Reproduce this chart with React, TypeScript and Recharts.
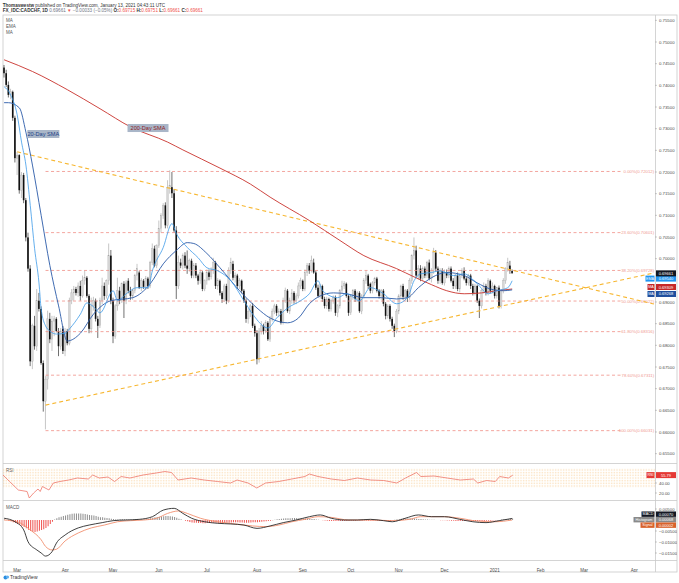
import React from 'react'
import { ComposedChart, Bar, Line, XAxis, YAxis, ReferenceLine, ReferenceDot, ReferenceArea, Cell } from 'recharts'

// FX_IDC:CADCHF daily bars, 21 Feb 2020 .. 13 Jan 2021, prices in pips (x 1e-4)
const opens = [
  7441, 7428, 7401, 7378, 7385, 7325, 7232, 7239, 7158, 7193,
  7135, 7049, 6977, 6763, 6845, 6798, 6903, 6884, 6759, 6671,
  6722, 6861, 6814, 6856, 6861, 6833, 6798, 6838, 6787, 6833,
  6805, 6903, 6921, 6930, 6921, 6937, 6914, 6949, 6956, 6914,
  6838, 6891, 6903, 6861, 6845, 6903, 6937, 6914, 6949, 7007,
  6903, 6821, 6891, 6926, 6903, 6942, 6903, 6949, 6926, 6914,
  6926, 6961, 6968, 6933, 6949, 6935, 6954, 6937, 6991, 7023,
  6984, 7030, 7070, 7100, 7123, 7077, 7165, 7165, 7151, 7065,
  6937, 6991, 6984, 7007, 6984, 6977, 6995, 6961, 6984, 6961,
  6949, 6968, 6930, 6949, 6968, 6958, 6972, 6991, 6937, 6949,
  6921, 6907, 6937, 6903, 6972, 6988, 6956, 6961, 6937, 6949,
  6926, 6903, 6861, 6879, 6891, 6845, 6828, 6768, 6833, 6845,
  6833, 6852, 6814, 6861, 6879, 6891, 6875, 6879, 6852, 6903,
  6926, 6879, 6903, 6921, 6903, 6914, 6937, 6949, 6930, 6968,
  6984, 6972, 6991, 6968, 6933, 6914, 6937, 6907, 6891, 6907,
  6884, 6903, 6910, 6875, 6891, 6926, 6937, 6942, 6914, 6875,
  6914, 6926, 6907, 6921, 6879, 6914, 6949, 6961, 6942, 6926,
  6944, 6954, 6926, 6914, 6926, 6896, 6868, 6891, 6861, 6845,
  6833, 6879, 6914, 6937, 6912, 6926, 6910, 6949, 7007, 7019,
  6961, 6977, 6954, 6977, 6961, 6991, 6954, 6972, 7014, 6977,
  6949, 6972, 6944, 6968, 6961, 6977, 6949, 6937, 6961, 6930,
  6961, 6972, 6954, 6944, 6961, 6937, 6921, 6937, 6903, 6891,
  6926, 6937, 6921, 6949, 6926, 6937, 6914, 6933, 6891, 6926,
  6949, 6977, 6984, 6971.5,
]
const highs = [
  7447, 7436, 7409, 7392, 7388, 7330, 7246, 7241, 7200, 7198,
  7140, 7060, 6985, 6850, 6868, 6930, 6921, 6890, 6765, 6729,
  6880, 6875, 6868, 6868, 6865, 6840, 6840, 6845, 6840, 6838,
  6910, 6930, 6937, 6935, 6945, 6949, 6961, 6972, 6960, 6918,
  6910, 6912, 6908, 6868, 6910, 6956, 6945, 6952, 7035, 7020,
  6910, 6895, 6956, 6935, 6945, 6948, 6950, 6955, 6935, 6930,
  6965, 6988, 6972, 6955, 6953, 6960, 6958, 6995, 7035, 7030,
  7033, 7088, 7105, 7128, 7130, 7181, 7204, 7200, 7160, 7075,
  7007, 7000, 7012, 7015, 7019, 7000, 7000, 6990, 6990, 6965,
  6975, 6972, 6952, 6975, 6975, 6980, 7002, 6995, 6955, 6952,
  6925, 6942, 6942, 6980, 7002, 6995, 6968, 6965, 6955, 6952,
  6930, 6908, 6885, 6895, 6898, 6850, 6835, 6840, 6856, 6850,
  6858, 6856, 6868, 6885, 6896, 6895, 6885, 6884, 6910, 6933,
  6930, 6910, 6930, 6925, 6920, 6945, 6956, 6952, 6975, 6990,
  6990, 7007, 7000, 6972, 6940, 6942, 6940, 6912, 6912, 6910,
  6908, 6915, 6915, 6895, 6930, 6949, 6948, 6945, 6918, 6918,
  6930, 6930, 6925, 6925, 6918, 6955, 6972, 6965, 6945, 6948,
  6958, 6958, 6930, 6930, 6930, 6900, 6895, 6895, 6866, 6850,
  6884, 6918, 6940, 6942, 6930, 6930, 6955, 7010, 7049, 7030,
  6985, 6985, 6982, 6982, 6995, 6998, 6978, 7025, 7020, 6982,
  6978, 6978, 6975, 6975, 6982, 6982, 6955, 6965, 6968, 6965,
  6978, 6980, 6958, 6965, 6965, 6942, 6942, 6940, 6908, 6930,
  6945, 6942, 6955, 6952, 6945, 6940, 6935, 6938, 6930, 6955,
  6980, 7002, 6995, 6975.1,
]
const lows = [
  7418, 7396, 7372, 7368, 7318, 7222, 7193, 7150, 7140, 7128,
  7040, 6970, 6752, 6745, 6790, 6787, 6878, 6755, 6647, 6606,
  6698, 6805, 6787, 6821, 6830, 6775, 6790, 6780, 6775, 6800,
  6800, 6895, 6903, 6915, 6912, 6903, 6910, 6940, 6910, 6828,
  6828, 6880, 6855, 6817, 6840, 6895, 6905, 6908, 6940, 6895,
  6805, 6815, 6880, 6895, 6898, 6863, 6895, 6920, 6905, 6905,
  6920, 6950, 6930, 6925, 6930, 6928, 6930, 6932, 6985, 6980,
  6978, 7025, 7060, 7092, 7070, 7070, 7150, 7140, 7060, 6907,
  6930, 6978, 6975, 6978, 6965, 6970, 6955, 6955, 6955, 6940,
  6942, 6925, 6925, 6940, 6950, 6952, 6965, 6930, 6928, 6915,
  6898, 6900, 6895, 6898, 6965, 6950, 6945, 6930, 6930, 6920,
  6898, 6852, 6850, 6865, 6840, 6820, 6756, 6760, 6825, 6825,
  6828, 6810, 6808, 6855, 6872, 6868, 6865, 6848, 6848, 6898,
  6875, 6872, 6896, 6896, 6895, 6908, 6930, 6925, 6925, 6960,
  6965, 6968, 6965, 6928, 6910, 6908, 6900, 6885, 6884, 6878,
  6878, 6896, 6868, 6865, 6885, 6920, 6930, 6910, 6868, 6870,
  6905, 6900, 6900, 6875, 6872, 6908, 6942, 6930, 6920, 6920,
  6938, 6922, 6908, 6905, 6890, 6860, 6862, 6855, 6838, 6819,
  6828, 6872, 6908, 6905, 6905, 6900, 6905, 6942, 6998, 6955,
  6952, 6948, 6948, 6955, 6955, 6950, 6945, 6965, 6970, 6942,
  6942, 6940, 6938, 6955, 6955, 6945, 6930, 6930, 6925, 6922,
  6955, 6950, 6938, 6938, 6930, 6915, 6915, 6898, 6863, 6885,
  6920, 6915, 6915, 6920, 6920, 6908, 6908, 6885, 6885, 6920,
  6942, 6970, 6965, 6966.1,
]
const closes = [
  7428, 7401, 7378, 7385, 7325, 7232, 7239, 7158, 7193, 7135,
  7049, 6977, 6763, 6845, 6798, 6903, 6884, 6759, 6671, 6722,
  6861, 6814, 6856, 6861, 6833, 6798, 6833, 6787, 6833, 6805,
  6903, 6921, 6930, 6921, 6937, 6914, 6949, 6956, 6914, 6838,
  6891, 6903, 6861, 6845, 6903, 6937, 6914, 6949, 7007, 6903,
  6821, 6891, 6926, 6903, 6942, 6903, 6944, 6926, 6914, 6926,
  6961, 6977, 6933, 6949, 6935, 6954, 6937, 6991, 7023, 6984,
  7030, 7070, 7100, 7123, 7077, 7165, 7169, 7151, 7065, 6937,
  6991, 6984, 7007, 6984, 6977, 6995, 6961, 6984, 6961, 6949,
  6968, 6930, 6949, 6968, 6958, 6972, 6991, 6937, 6949, 6921,
  6907, 6937, 6903, 6972, 6991, 6956, 6961, 6937, 6949, 6926,
  6903, 6861, 6879, 6891, 6845, 6828, 6768, 6833, 6845, 6833,
  6852, 6814, 6861, 6879, 6891, 6875, 6879, 6852, 6903, 6926,
  6879, 6903, 6921, 6903, 6914, 6937, 6949, 6930, 6968, 6984,
  6972, 6995, 6968, 6933, 6914, 6937, 6907, 6891, 6907, 6884,
  6903, 6910, 6875, 6891, 6926, 6937, 6942, 6914, 6875, 6914,
  6926, 6907, 6921, 6879, 6914, 6949, 6961, 6937, 6926, 6944,
  6954, 6926, 6914, 6926, 6896, 6868, 6891, 6861, 6845, 6833,
  6879, 6914, 6937, 6912, 6926, 6910, 6949, 7007, 7019, 6961,
  6977, 6954, 6977, 6961, 6991, 6954, 6972, 7014, 6977, 6949,
  6972, 6944, 6968, 6961, 6977, 6949, 6937, 6961, 6930, 6961,
  6972, 6954, 6944, 6961, 6937, 6921, 6937, 6903, 6891, 6926,
  6937, 6921, 6949, 6926, 6937, 6914, 6933, 6891, 6926, 6949,
  6977, 6991, 6972, 6966.1,
]

// indicator readings: [bar index, value]
const sma200Pts = [[0, 7459], [13, 7432], [29, 7390], [44, 7346], [58, 7304], [75, 7269], [82, 7251], [99, 7209], [113, 7172], [122, 7142], [140, 7088], [154, 7042], [165, 7007], [180, 6977], [188, 6958], [196, 6940], [203, 6926], [211, 6919], [219, 6921], [226, 6926], [233, 6930]]
const sma20Pts = [[0, 7360], [2, 7360], [7, 7348], [10, 7292], [13, 7216], [17, 7100], [21, 6984], [25, 6891], [29, 6810], [35, 6828], [41, 6872], [49, 6903], [59, 6910], [67, 6942], [73, 6988], [79, 7019], [84, 7037], [87, 7035], [93, 7012], [99, 6979], [108, 6926], [116, 6886], [122, 6863], [130, 6852], [135, 6863], [140, 6896], [145, 6914], [151, 6921], [157, 6919], [165, 6910], [173, 6910], [180, 6907], [185, 6910], [190, 6933], [196, 6956], [203, 6968], [211, 6961], [217, 6944], [223, 6930], [229, 6926], [233, 6928]]
const emaPts = [[0, 7397], [3, 7378], [6, 7332], [8, 7269], [10, 7216], [12, 7123], [14, 7023], [16, 6944], [17, 6884], [19, 6845], [21, 6833], [24, 6826], [28, 6828], [30, 6838], [35, 6872], [38, 6898], [41, 6889], [44, 6875], [50, 6926], [52, 6903], [56, 6919], [61, 6933], [66, 6933], [68, 6972], [73, 7026], [77, 7081], [79, 7058], [84, 7026], [89, 7002], [93, 6979], [98, 6972], [104, 6949], [110, 6903], [114, 6872], [121, 6840], [125, 6863], [130, 6886], [136, 6903], [140, 6919], [144, 6949], [146, 6926], [153, 6910], [157, 6919], [163, 6903], [168, 6933], [174, 6919], [180, 6896], [185, 6910], [188, 6949], [191, 6965], [196, 6968], [200, 6972], [206, 6961], [211, 6965], [217, 6942], [222, 6919], [226, 6926], [231, 6933], [233, 6949]]
const rsiPts = [[0, 56], [3, 43], [7, 26], [11, 23], [12, 10], [14, 20], [16, 28], [17, 23], [18, 33], [21, 26], [23, 40], [26, 43], [30, 46], [34, 50], [39, 48], [41, 56], [44, 50], [48, 52], [51, 43], [54, 53], [58, 50], [64, 56], [70, 60], [74, 63], [77, 61], [80, 46], [86, 50], [92, 46], [98, 43], [104, 40], [107, 46], [112, 40], [116, 30], [120, 40], [126, 43], [132, 48], [138, 53], [140, 58], [144, 53], [150, 48], [156, 45], [162, 50], [168, 46], [174, 45], [180, 40], [184, 50], [189, 61], [191, 53], [197, 54], [203, 50], [209, 46], [215, 48], [217, 40], [221, 45], [225, 43], [227, 53], [231, 50], [233, 55.79]]
const macdPts = [[0, 8], [5, -8], [9, -45], [11, -99], [15, -136], [17, -150], [19, -164], [22, -144], [24, -105], [28, -68], [34, -36], [39, -23], [45, -12], [50, -3], [56, 0], [62, 3], [68, 15], [73, 45], [78, 53], [82, 30], [86, 8], [92, -8], [98, -15], [104, -18], [110, -23], [116, -38], [122, -27], [128, -12], [134, 0], [140, 15], [145, 23], [150, 8], [156, 0], [162, 0], [168, 3], [174, -3], [178, -8], [184, 8], [190, 23], [196, 15], [202, 15], [209, 3], [215, -8], [221, -12], [227, -3], [233, 7]]
const signalPts = [[0, 0], [6, -8], [12, -45], [17, -90], [19, -120], [22, -136], [24, -133], [28, -95], [34, -59], [40, -36], [46, -23], [52, -8], [58, -3], [64, 0], [70, 8], [75, 30], [80, 41], [84, 30], [90, 8], [98, -8], [106, -18], [114, -27], [120, -30], [126, -23], [132, -8], [138, 3], [144, 15], [150, 12], [158, 0], [168, 0], [178, -3], [186, 3], [191, 15], [202, 15], [209, 8], [217, -5], [225, -8], [233, 0]]
const histVals = [
  2, 0, -3, -6, -10, -14, -18, -22, -27, -32,
  -38, -44, -50, -53, -54, -52, -49, -46, -42, -36,
  -28, -18, -8, 2, 8, 12, 15, 18, 21, 24,
  26, 28, 29, 30, 30, 29, 28, 27, 25, 23,
  22, 20, 18, 15, 13, 12, 10, 9, 8, 6,
  4, 3, 3, 4, 4, 3, 3, 2, 2, 3,
  3, 4, 3, 3, 2, 3, 5, 8, 10, 12,
  14, 15, 16, 17, 18, 18, 17, 16, 14, 10,
  6, 3, 0, -3, -6, -9, -11, -12, -13, -14,
  -14, -15, -15, -14, -14, -13, -13, -13, -14, -14,
  -15, -14, -13, -12, -11, -10, -10, -10, -11, -11,
  -12, -12, -12, -11, -10, -10, -10, -9, -8, -7,
  -6, -5, -3, -1, 1, 3, 5, 6, 7, 8,
  8, 8, 9, 9, 9, 8, 8, 7, 7, 7,
  6, 5, 4, 2, 1, 0, -1, -2, -3, -4,
  -4, -5, -5, -5, -4, -4, -4, -4, -4, -3,
  -3, -3, -2, -3, -3, -2, -2, -3, -3, -3,
  -2, -3, -4, -4, -5, -5, -5, -4, -2, 1,
  3, 5, 6, 7, 8, 8, 8, 8, 7, 6,
  5, 4, 3, 2, 2, 1, 1, 1, 0, 0,
  -1, -1, -1, -2, -2, -3, -3, -4, -4, -4,
  -4, -5, -5, -5, -5, -5, -5, -5, -5, -4,
  -4, -3, -3, -3, -2, -2, -1, 0, 2, 3,
  4, 5, 6, 7,
]

// fibonacci retracement levels (0.72012 high / 0.66031 low)
const fibLevels = [0.72012, 0.70601, 0.69728, 0.69022, 0.68316, 0.67311, 0.66031]
const fibNames = ['0.00%(0.72012)', '23.60%(0.70601)', '38.20%(0.69728)', '50.00%(0.69022)', '61.80%(0.68316)', '78.60%(0.67311)', '100.00%(0.66031)']

const monthTicks = [6, 28, 50, 71, 93, 116, 137, 159, 181, 202, 225, 246, 266, 289]
const monthNames = ['Mar', 'Apr', 'May', 'Jun', 'Jul', 'Aug', 'Sep', 'Oct', 'Nov', 'Dec', '2021', 'Feb', 'Mar', 'Apr']
// 0.69500 is hidden behind the value tags in the reference
const priceTicks = [0.655, 0.66, 0.665, 0.67, 0.675, 0.68, 0.685, 0.69, 0.7, 0.705, 0.71, 0.715, 0.72, 0.725, 0.73, 0.735, 0.74, 0.745, 0.75, 0.755]
const rsiTicks = [20, 40]
const macdTicks = [0.005, -0.005, -0.01, -0.015]

const SLOTS = 299 // bars + empty days up to April 2021

const rows: any[] = Array.from({ length: SLOTS }, (_, i) => {
  const r: any = { i }
  if (i < closes.length) {
    r.o = opens[i] / 1e4
    r.h = highs[i] / 1e4
    r.l = lows[i] / 1e4
    r.c = closes[i] / 1e4
    r.range = [r.l, r.h]
    r.hist = histVals[i] / 1e4
  }
  return r
})
sma200Pts.forEach(([i, v]) => (rows[i].sma200 = v / 1e4))
sma20Pts.forEach(([i, v]) => (rows[i].sma20 = v / 1e4))
emaPts.forEach(([i, v]) => (rows[i].ema = v / 1e4))
rsiPts.forEach(([i, v]) => (rows[i].rsi = v))
macdPts.forEach(([i, v]) => (rows[i].macd = v / 1e4))
signalPts.forEach(([i, v]) => (rows[i].signal = v / 1e4))

const FONT = '"Liberation Sans", Arial, sans-serif'
const axisTick = { fontSize: 4.3, fill: '#4a4a4a', fontFamily: FONT }
const minus = (v: number, d: number) => (v < 0 ? '\u2212' + Math.abs(v).toFixed(d) : v.toFixed(d))

const Candle = (props: any) => {
  const { x, y, width, height, payload } = props
  if (!payload || payload.o == null || height == null) return null
  const top = Math.min(y, y + height)
  const hh = Math.abs(height)
  const span = payload.h - payload.l || 1
  const py = (p: number) => top + ((payload.h - p) / span) * hh
  const up = payload.c >= payload.o
  const cx = x + width / 2
  const b1 = py(Math.max(payload.o, payload.c))
  const b2 = py(Math.min(payload.o, payload.c))
  return (
    <g>
      <line x1={cx} x2={cx} y1={top} y2={top + hh} stroke={up ? '#a0a0a0' : '#111'} strokeWidth={0.6} />
      <rect x={cx - 0.8} y={b1} width={1.6} height={Math.max(0.7, b2 - b1)} fill={up ? '#d6d6d6' : '#111'} stroke={up ? '#a6a6a6' : 'none'} strokeWidth={0.3} />
    </g>
  )
}

const Tag = ({ vb, name, value, bg, dy = 0, nameW = 0, h = 6 }: any) => {
  if (!vb) return null
  const x = vb.x + vb.width
  const y = vb.y + dy
  return (
    <g style={{ fontFamily: FONT }}>
      {name ? <rect x={x - nameW - 0.5} y={y - h / 2} width={nameW} height={h} fill={bg} /> : null}
      {name ? (
        <text x={x - nameW / 2 - 0.5} y={y} fontSize={3.7} fill="#fff" textAnchor="middle" dominantBaseline="central">
          {name}
        </text>
      ) : null}
      <rect x={x + 1} y={y - h / 2} width={20} height={h} fill={bg} />
      <text x={x + 11} y={y} fontSize={4} fill="#fff" textAnchor="middle" dominantBaseline="central">
        {value}
      </text>
    </g>
  )
}

const Anno = ({ vb, text, w, color }: any) => {
  if (!vb) return null
  const cx = vb.x + (vb.width || 0) / 2
  const cy = vb.y + (vb.height || 0) / 2
  return (
    <g style={{ fontFamily: FONT }}>
      <rect x={cx - w / 2} y={cy - 4} width={w} height={8} fill="#a9b6c8" />
      <text x={cx} y={cy} fontSize={5.6} fill={color} textAnchor="middle" dominantBaseline="central">
        {text}
      </text>
    </g>
  )
}

const Frame = () => (
  <svg width={679} height={583} style={{ position: 'absolute', left: 0, top: 0, fontFamily: FONT }}>
    <rect x={0} y={0} width={679} height={583} fill="#fff" />
    <text x={2.7} y={6.6} fontSize={4.6} fill="#333">
      <tspan fontWeight="bold">Thomaswestw</tspan>
      <tspan> published on TradingView.com, January 13, 2021 04:43:11 UTC</tspan>
    </text>
    <text x={2.7} y={12.4} fontSize={4.6} fill="#333">
      <tspan fontWeight="bold">FX_IDC:CADCHF, 1D </tspan>
      <tspan fill="#6f7585">0.69661 </tspan>
      <tspan fill="#ef5350">▼ </tspan>
      <tspan fill="#6f7585">−0.00033 (−0.05%) </tspan>
      <tspan fontWeight="bold">O:</tspan>
      <tspan fill="#ef5350">0.69715 </tspan>
      <tspan fontWeight="bold">H:</tspan>
      <tspan fill="#ef5350">0.69751 </tspan>
      <tspan fontWeight="bold">L:</tspan>
      <tspan fill="#ef5350">0.69661 </tspan>
      <tspan fontWeight="bold">C:</tspan>
      <tspan fill="#ef5350">0.69661</tspan>
    </text>
    <g stroke="#c9c9c9" strokeWidth={0.8} fill="none">
      <rect x={3} y={15} width={674} height={557} />
      <line x1={655.5} x2={655.5} y1={15} y2={572} />
      <line x1={3} x2={677} y1={463.5} y2={463.5} />
      <line x1={3} x2={677} y1={500.5} y2={500.5} />
      <line x1={3} x2={677} y1={560.5} y2={560.5} />
    </g>
    <g fontSize={4.5} fill="#555">
      <text x={6} y={22}>MA</text>
      <text x={6} y={28}>EMA</text>
      <text x={6} y={33.6}>MA</text>
      <text x={6} y={471.5}>RSI</text>
      <text x={6} y={508.5}>MACD</text>
    </g>
    <g>
      <circle cx={5.5} cy={577.5} r={2} fill="#2a8de0" />
      <circle cx={7.5} cy={577} r={1.6} fill="#5fb0f0" />
      <text x={10} y={579.2} fontSize={5} fill="#333">TradingView</text>
    </g>
  </svg>
)

export default function App() {
  const last = rows[closes.length - 1]
  return (
    <div style={{ position: 'relative', width: 679, height: 583, fontFamily: FONT, background: '#fff' }}>
      <style>{'body{margin:0;}'}</style>
      <Frame />

      <div style={{ position: 'absolute', left: 3, top: 15 }}>
        <ComposedChart width={674} height={448} data={rows} margin={{ top: 0, right: 0, bottom: 0, left: 0 }}>
          <XAxis dataKey="i" hide />
          <YAxis
            orientation="right"
            width={22}
            domain={[0.652842, 0.756234]}
            allowDataOverflow
            ticks={priceTicks}
            interval={0}
            tick={axisTick}
            tickSize={2}
            tickLine={{ stroke: '#999', strokeWidth: 0.5 }}
            axisLine={false}
            tickFormatter={(v: number) => v.toFixed(5)}
          />
          {fibLevels.map((lv, k) => (
            <ReferenceLine
              key={'fib' + k}
              segment={[{ x: 19, y: lv }, { x: 283, y: lv }]}
              stroke="#f08f87"
              strokeDasharray="3 2.5"
              strokeWidth={0.8}
              label={(p: any) =>
                p.viewBox ? (
                  <text x={p.viewBox.x + p.viewBox.width + 33} y={p.viewBox.y} fontSize={4.3} fill="#f09a92" textAnchor="end" dominantBaseline="central" style={{ fontFamily: FONT }}>
                    {fibNames[k]}
                  </text>
                ) : null
              }
            />
          ))}
          <ReferenceLine segment={[{ x: 6, y: 0.72466 }, { x: 298, y: 0.68952 }]} stroke="#f7b731" strokeDasharray="4 3" strokeWidth={1.1} />
          <ReferenceLine segment={[{ x: 19, y: 0.6662 }, { x: 298, y: 0.6967 }]} stroke="#f7b731" strokeDasharray="4 3" strokeWidth={1.1} />
          <Bar dataKey="range" barSize={2} shape={(p: any) => <Candle {...p} />} isAnimationActive={false} />
          <Line dataKey="sma200" type="monotone" stroke="#c8312b" strokeWidth={0.9} dot={false} connectNulls isAnimationActive={false} />
          <Line dataKey="sma20" type="monotone" stroke="#2a5aa8" strokeWidth={0.9} dot={false} connectNulls isAnimationActive={false} />
          <Line dataKey="ema" type="monotone" stroke="#3d9be9" strokeWidth={0.8} dot={false} connectNulls isAnimationActive={false} />
          <ReferenceDot x={66} y={0.73015} r={1} fill="none" stroke="none" label={(p: any) => <Anno vb={p.viewBox} text="200-Day SMA" w={41} color="#8e1d1d" />} />
          <ReferenceDot x={18} y={0.72877} r={1} fill="none" stroke="none" label={(p: any) => <Anno vb={p.viewBox} text="20-Day SMA" w={32} color="#1d3f86" />} />
          <ReferenceLine y={0.69268} stroke="none" label={(p: any) => <Tag vb={p.viewBox} name="MA" value="0.69268" bg="#1f4f9e" nameW={7} dy={3.6} />} />
          <ReferenceLine y={0.69309} stroke="none" label={(p: any) => <Tag vb={p.viewBox} name="MA" value="0.69309" bg="#c62828" nameW={7} dy={-1.6} />} />
          <ReferenceLine y={0.6954} stroke="none" label={(p: any) => <Tag vb={p.viewBox} name="EMA" value="0.69540" bg="#2196f3" nameW={9} />} />
          <ReferenceLine y={last.c} stroke="none" label={(p: any) => <Tag vb={p.viewBox} value="0.69661" bg="#131722" />} />
        </ComposedChart>
      </div>

      <div style={{ position: 'absolute', left: 3, top: 464 }}>
        <ComposedChart width={674} height={36} data={rows} margin={{ top: 0, right: 0, bottom: 0, left: 0 }}>
          <defs>
            <pattern id="rsiDots" width="1.6" height="1.6" patternUnits="userSpaceOnUse">
              <rect width="0.8" height="0.8" fill="#f6c27c" />
            </pattern>
          </defs>
          <XAxis dataKey="i" hide />
          <YAxis
            orientation="right"
            width={22}
            domain={[6, 78]}
            allowDataOverflow
            ticks={rsiTicks}
            interval={0}
            tick={axisTick}
            tickSize={2}
            tickLine={{ stroke: '#999', strokeWidth: 0.5 }}
            axisLine={false}
            tickFormatter={(v: number) => v.toFixed(2)}
          />
          <ReferenceArea y1={30} y2={70} fill="url(#rsiDots)" fillOpacity={0.5} stroke="none" />
          <Line dataKey="rsi" type="linear" stroke="#ee6f62" strokeWidth={0.75} dot={false} connectNulls isAnimationActive={false} />
          <ReferenceLine y={55.79} stroke="none" label={(p: any) => <Tag vb={p.viewBox} name="RSI" value="55.79" bg="#e53935" nameW={8} />} />
        </ComposedChart>
      </div>

      <div style={{ position: 'absolute', left: 3, top: 500 }}>
        <ComposedChart width={674} height={72} data={rows} margin={{ top: 0, right: 0, bottom: 0, left: 0 }}>
          <XAxis
            dataKey="i"
            height={12}
            ticks={monthTicks}
            interval={0}
            tick={{ ...axisTick, fontSize: 4.5 }}
            tickLine={false}
            axisLine={false}
            tickMargin={3}
            tickFormatter={(v: number) => monthNames[monthTicks.indexOf(v)]}
          />
          <YAxis
            orientation="right"
            width={22}
            domain={[-0.01818, 0.00909]}
            allowDataOverflow
            ticks={macdTicks}
            interval={0}
            tick={axisTick}
            tickSize={2}
            tickLine={{ stroke: '#999', strokeWidth: 0.5 }}
            axisLine={false}
            tickFormatter={(v: number) => minus(v, 5)}
          />
          <Bar dataKey="hist" barSize={1} isAnimationActive={false}>
            {rows.map((r, k) => (
              <Cell key={k} fill={r.hist != null && r.hist < 0 ? '#ef5350' : '#8e8e8e'} />
            ))}
          </Bar>
          <Line dataKey="signal" type="monotone" stroke="#f2906f" strokeWidth={0.9} dot={false} connectNulls isAnimationActive={false} />
          <Line dataKey="macd" type="monotone" stroke="#2a2a2a" strokeWidth={0.9} dot={false} connectNulls isAnimationActive={false} />
          <ReferenceLine y={0.0007} stroke="none" label={(p: any) => <Tag vb={p.viewBox} name="MACD" value="0.00070" bg="#131722" nameW={13} dy={-4.3} h={5.4} />} />
          <ReferenceLine y={0.00068} stroke="none" label={(p: any) => <Tag vb={p.viewBox} name="Histogram" value="0.00068" bg="#8a8a8a" nameW={21} dy={1.2} h={5.4} />} />
          <ReferenceLine y={0.00002} stroke="none" label={(p: any) => <Tag vb={p.viewBox} name="Signal" value="0.00002" bg="#d9622b" nameW={14} dy={5.2} h={5.4} />} />
        </ComposedChart>
      </div>
    </div>
  )
}
